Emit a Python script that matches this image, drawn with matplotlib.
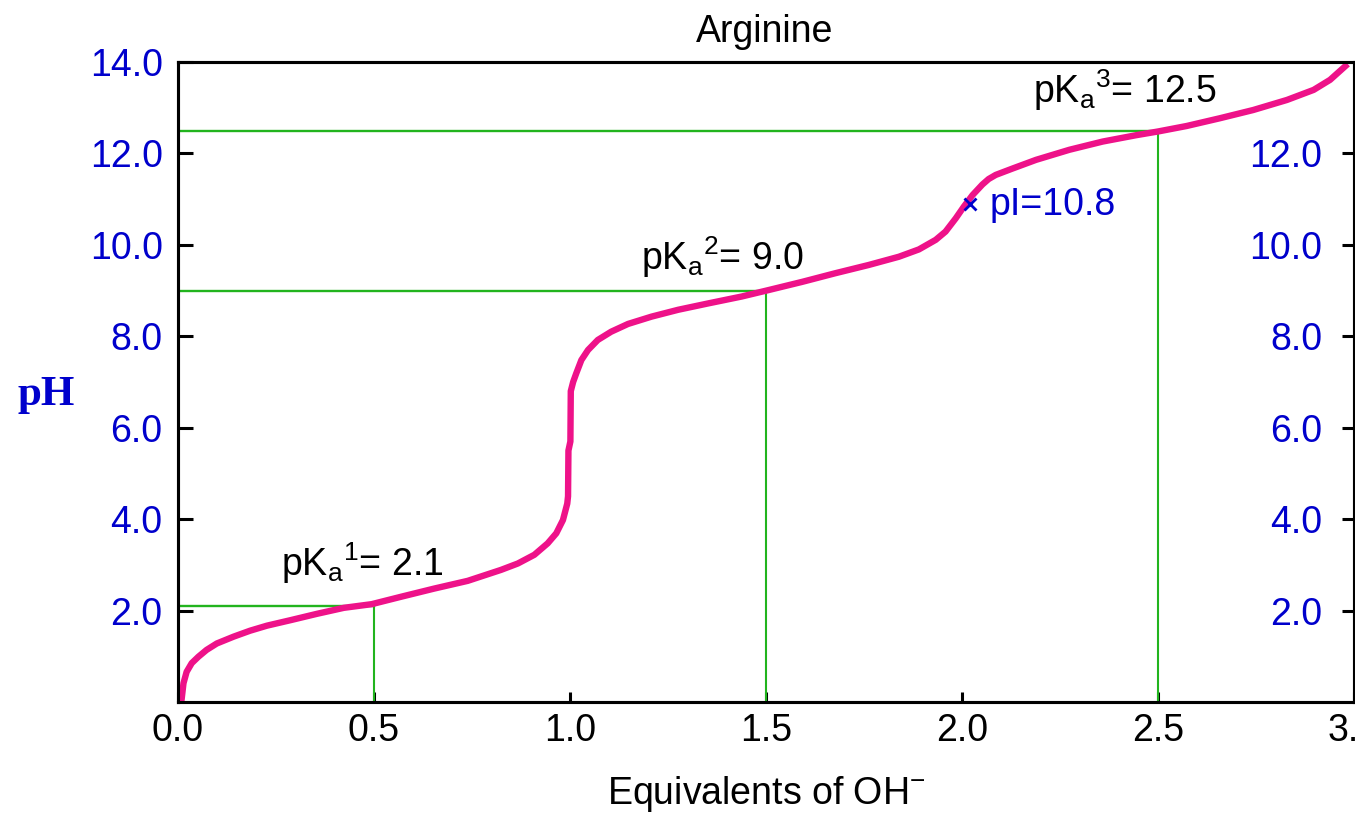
import numpy as np
import matplotlib
matplotlib.use('Agg')
import matplotlib.pyplot as plt

plt.rcParams['font.family'] = ['Liberation Sans', 'DejaVu Sans']
plt.rcParams['mathtext.fontset'] = 'custom'
plt.rcParams['mathtext.rm'] = 'Liberation Sans'

# titration curve
equiv = [0.005, 0.009, 0.014, 0.022, 0.035, 0.052, 0.073, 0.099, 0.142, 0.184,
         0.227, 0.287, 0.355, 0.423, 0.494, 0.568, 0.653, 0.739, 0.824, 0.867,
         0.909, 0.943, 0.965, 0.982, 0.993, 0.995, 0.996, 1.001, 1.002, 1.008,
         1.016, 1.029, 1.046, 1.071, 1.105, 1.148, 1.208, 1.276, 1.353, 1.438,
         1.506, 1.592, 1.677, 1.762, 1.839, 1.890, 1.933, 1.958, 1.984, 2.005,
         2.027, 2.052, 2.068, 2.086, 2.129, 2.189, 2.274, 2.359, 2.445, 2.500,
         2.573, 2.658, 2.743, 2.829, 2.897, 2.939, 2.978]
ph = [0.00, 0.04, 0.41, 0.66, 0.85, 0.99, 1.14, 1.28, 1.43, 1.56,
      1.67, 1.79, 1.93, 2.06, 2.14, 2.30, 2.48, 2.65, 2.89, 3.03,
      3.22, 3.47, 3.69, 3.98, 4.34, 4.50, 5.50, 5.70, 6.80, 7.00,
      7.19, 7.48, 7.70, 7.92, 8.10, 8.27, 8.43, 8.58, 8.72, 8.87,
      9.01, 9.19, 9.38, 9.56, 9.74, 9.90, 10.11, 10.29, 10.58, 10.84,
      11.09, 11.32, 11.44, 11.53, 11.67, 11.86, 12.08, 12.26, 12.40, 12.48,
      12.60, 12.77, 12.95, 13.17, 13.39, 13.61, 13.91]

pka_equiv = [0.5, 1.5, 2.5]
pka_vals = [2.1, 9.0, 12.5]
pka_labels = [r'pK$_\mathregular{a}$$^\mathregular{1}$= 2.1',
              r'pK$_\mathregular{a}$$^\mathregular{2}$= 9.0',
              r'pK$_\mathregular{a}$$^\mathregular{3}$= 12.5']
pi_equiv = 2.02
pi_mark = 10.9
pi_label = 'pI=10.8'

xticks = [0.0, 0.5, 1.0, 1.5, 2.0, 2.5, 3.0]
yticks_left = [2, 4, 6, 8, 10, 12, 14]
yticks_right = [2, 4, 6, 8, 10, 12]

blue = '#0000CC'
pink = '#EE1289'
green = '#22B41E'
fs = 27

fig = plt.figure(figsize=(13.55, 8.14), dpi=100)
ax = fig.add_axes([178/1355, 1-702/814, (1354-178)/1355, (702-62)/814])

for xe, pk in zip(pka_equiv, pka_vals):
    ax.plot([0, xe], [pk, pk], color=green, lw=1.7, zorder=2)
    ax.plot([xe, xe], [0, pk], color=green, lw=1.5, zorder=2)

ax.plot(equiv, ph, color=pink, lw=4.6, zorder=3)
ax.plot([pi_equiv], [pi_mark], marker='x', ms=9, mew=2, color=blue, zorder=4)

# text positions
ax.text(0.262, 2.76, pka_labels[0], fontsize=fs, ha='left', va='baseline')
ax.text(1.180, 9.45, pka_labels[1], fontsize=fs, ha='left', va='baseline')
ax.text(2.180, 13.10, pka_labels[2], fontsize=fs, ha='left', va='baseline')
ax.text(2.070, 10.65, pi_label, fontsize=fs, color=blue, ha='left', va='baseline')

ax.set_xlim(0, 3)
ax.set_ylim(0, 14)
ax.set_xticks(xticks)
ax.set_xticklabels([f'{v:.1f}' for v in xticks])
ax.set_yticks(yticks_left)
ax.set_yticklabels([f'{v:.1f}' for v in yticks_left])
ax.tick_params(axis='y', direction='in', length=11, width=2.2, pad=11,
               labelsize=fs, labelcolor=blue)
ax.tick_params(axis='x', direction='in', length=7, width=2.2, pad=8,
               labelsize=fs)
for s in ax.spines.values():
    s.set_linewidth(2.2)

ax2 = ax.twinx()
ax2.set_ylim(0, 14)
ax2.set_yticks(yticks_right)
ax2.set_yticklabels([f'{v:.1f}' for v in yticks_right])
ax2.tick_params(axis='y', direction='in', length=9, width=2.2, pad=-23,
                labelsize=fs, labelcolor=blue)
for lbl in ax2.get_yticklabels():
    lbl.set_horizontalalignment('right')
for s in ax2.spines.values():
    s.set_linewidth(2.2)

ax.set_xlabel(r'Equivalents of OH$^\mathregular{-}$', fontsize=fs)
ax.xaxis.set_label_coords(0.5, -0.112)

fig.text(765/1355, 1-32/814, 'Arginine', fontsize=fs, ha='center', va='center')
fig.text(46/1355, 1-395/814, 'pH', family='Liberation Serif', weight='bold',
         fontsize=31, color=blue, ha='center', va='center')

fig.savefig('out.png', dpi=100)
